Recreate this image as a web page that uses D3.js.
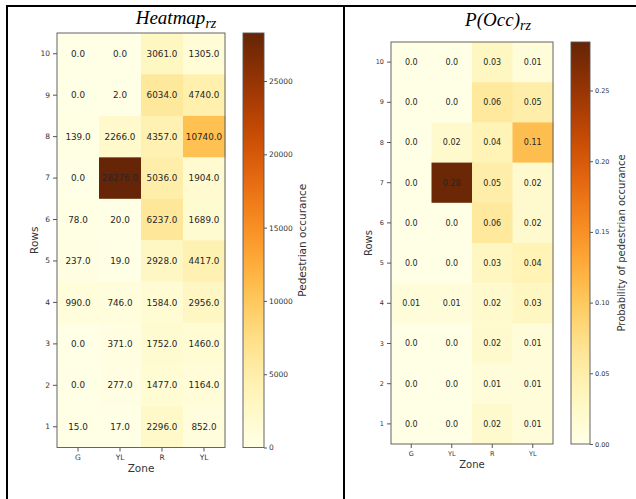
<!DOCTYPE html>
<html>
<head>
<meta charset="utf-8">
<script src="https://cdn.jsdelivr.net/npm/d3@7"></script>
<style>
  body { margin: 0; background: #fff; }
  svg { display: block; font-family: "DejaVu Sans", sans-serif; }
</style>
</head>
<body>
<svg id="chart" width="636" height="499"></svg>
<script>
// categories
var zones = ["G", "YL", "R", "YL"];
var rowLabels = [10, 9, 8, 7, 6, 5, 4, 3, 2, 1];

// pedestrian counts, one array per row (row 10 first)
var counts = [
  [0, 0, 3061, 1305],
  [0, 2, 6034, 4740],
  [139, 2266, 4357, 10740],
  [0, 28276, 5036, 1904],
  [78, 20, 6237, 1689],
  [237, 19, 2928, 4417],
  [990, 746, 1584, 2956],
  [0, 371, 1752, 1460],
  [0, 277, 1477, 1164],
  [15, 17, 2296, 852]
];

// probability of occurrence, as printed in the cells
var probs = [
  [0.0, 0.0, 0.03, 0.01],
  [0.0, 0.0, 0.06, 0.05],
  [0.0, 0.02, 0.04, 0.11],
  [0.0, 0.28, 0.05, 0.02],
  [0.0, 0.0, 0.06, 0.02],
  [0.0, 0.0, 0.03, 0.04],
  [0.01, 0.01, 0.02, 0.03],
  [0.0, 0.0, 0.02, 0.01],
  [0.0, 0.0, 0.01, 0.01],
  [0.0, 0.0, 0.02, 0.01]
];

var countTicks = [0, 5000, 10000, 15000, 20000, 25000];
var probTicks = [0, 0.05, 0.10, 0.15, 0.20, 0.25];

var svg = d3.select("#chart");

// table borders around the two figures
svg.append("line").attr("x1", 6).attr("x2", 636).attr("y1", 6).attr("y2", 6)
  .attr("stroke", "#000").attr("stroke-width", 2);
svg.append("line").attr("x1", 7).attr("x2", 7).attr("y1", 5).attr("y2", 499)
  .attr("stroke", "#000").attr("stroke-width", 2);
svg.append("line").attr("x1", 344).attr("x2", 344).attr("y1", 5).attr("y2", 499)
  .attr("stroke", "#000").attr("stroke-width", 2);

var defs = svg.append("defs");

function drawPanel(p) {
  var g = svg.append("g");

  var x = d3.scaleBand().domain(d3.range(zones.length)).range([p.x0, p.x1]);
  var y = d3.scaleBand().domain(rowLabels).range([p.y0, p.y1]);
  var colour = d3.scaleSequential(d3.interpolateYlOrBr).domain([0, p.max]);

  var cells = [];
  p.values.forEach(function (row, ri) {
    row.forEach(function (v, ci) {
      cells.push({ row: rowLabels[ri], col: ci, v: v });
    });
  });

  g.selectAll("rect.cell")
    .data(cells)
    .enter()
    .append("rect")
    .attr("class", "cell")
    .attr("x", function (d) { return x(d.col); })
    .attr("y", function (d) { return y(d.row); })
    .attr("width", x.bandwidth() + 0.5)
    .attr("height", y.bandwidth() + 0.5)
    .attr("fill", function (d) { return colour(d.v); });

  g.selectAll("text.val")
    .data(cells)
    .enter()
    .append("text")
    .attr("class", "val")
    .attr("x", function (d) { return x(d.col) + x.bandwidth() / 2; })
    .attr("y", function (d) { return y(d.row) + y.bandwidth() / 2; })
    .attr("dy", "0.35em")
    .attr("text-anchor", "middle")
    .style("font-size", p.valSize + "px")
    .style("fill", "#262626")
    .text(function (d) { return p.fmt(d.v); });

  // frame
  g.append("rect")
    .attr("x", p.x0).attr("y", p.y0)
    .attr("width", p.x1 - p.x0).attr("height", p.y1 - p.y0)
    .attr("fill", "none").attr("stroke", "#555").attr("stroke-width", 0.9);

  // y axis
  var yAxis = g.append("g")
    .attr("transform", "translate(" + p.x0 + ",0)")
    .call(d3.axisLeft(y).tickSize(4).tickPadding(3));
  yAxis.select(".domain").remove();
  yAxis.selectAll("line").attr("stroke", "#555");
  yAxis.selectAll("text").style("font-size", p.tickSize + "px").style("fill", "#333")
    .style("font-family", "'DejaVu Sans', sans-serif");

  // x axis
  var xAxis = g.append("g")
    .attr("transform", "translate(0," + p.y1 + ")")
    .call(d3.axisBottom(x).tickSize(4).tickPadding(3).tickFormat(function (i) { return zones[i]; }));
  xAxis.select(".domain").remove();
  xAxis.selectAll("line").attr("stroke", "#555");
  xAxis.selectAll("text").style("font-size", p.tickSize + "px").style("fill", "#333")
    .style("font-family", "'DejaVu Sans', sans-serif");

  g.append("text")
    .attr("x", (p.x0 + p.x1) / 2)
    .attr("y", p.zoneY)
    .attr("text-anchor", "middle")
    .style("font-size", p.labelSize + "px")
    .style("fill", "#333")
    .text("Zone");

  g.append("text")
    .attr("transform", "translate(" + p.rowsX + "," + (p.y0 + p.y1) / 2 + ") rotate(-90)")
    .attr("text-anchor", "middle")
    .attr("dy", "0.35em")
    .style("font-size", p.labelSize + "px")
    .style("fill", "#333")
    .text("Rows");

  // colour bar
  var grad = defs.append("linearGradient")
    .attr("id", p.id + "grad")
    .attr("x1", 0).attr("y1", 1).attr("x2", 0).attr("y2", 0);
  d3.range(0, 1.0001, 0.05).forEach(function (t) {
    grad.append("stop").attr("offset", t).attr("stop-color", d3.interpolateYlOrBr(t));
  });

  var cy = d3.scaleLinear().domain([0, p.max]).range([p.y1, p.y0]);
  g.append("rect")
    .attr("x", p.cb0).attr("y", p.y0)
    .attr("width", p.cb1 - p.cb0).attr("height", p.y1 - p.y0)
    .attr("fill", "url(#" + p.id + "grad)")
    .attr("stroke", "#555").attr("stroke-width", 0.9);

  var cAxis = g.append("g")
    .attr("transform", "translate(" + p.cb1 + ",0)")
    .call(d3.axisRight(cy).tickValues(p.ticks).tickSize(3).tickPadding(2).tickFormat(p.tickFmt));
  cAxis.select(".domain").remove();
  cAxis.selectAll("line").attr("stroke", "#555");
  cAxis.selectAll("text").style("font-size", p.tickSize + "px").style("fill", "#333")
    .style("font-family", "'DejaVu Sans', sans-serif");

  g.append("text")
    .attr("transform", "translate(" + p.cbLabelX + "," + (p.y0 + p.y1) / 2 + ") rotate(-90)")
    .attr("text-anchor", "middle")
    .attr("dy", "0.35em")
    .style("font-size", p.labelSize + "px")
    .style("fill", "#333")
    .text(p.cbLabel);

  // title with subscript
  var title = svg.append("text")
    .attr("x", p.titleX)
    .attr("y", p.titleY)
    .attr("text-anchor", "middle")
    .style("font-family", "'Liberation Serif', serif")
    .style("font-style", "italic")
    .style("font-size", "19px")
    .style("fill", "#000");
  title.append("tspan").text(p.title);
  title.append("tspan").attr("dy", 4).style("font-size", "14px").text("rz");
}

drawPanel({
  id: "heat",
  values: counts,
  max: 28276,
  x0: 57, x1: 225, y0: 33, y1: 447.5,
  cb0: 243, cb1: 264,
  ticks: countTicks,
  tickFmt: d3.format("d"),
  fmt: function (v) { return v.toFixed(1); },
  valSize: 8.8, tickSize: 7.5, labelSize: 10.5,
  zoneY: 472, rowsX: 34,
  cbLabel: "Pedestrian occurance", cbLabelX: 302,
  title: "Heatmap", titleX: 176, titleY: 24
});

drawPanel({
  id: "prob",
  values: probs,
  max: 0.2843,
  x0: 391, x1: 553, y0: 42, y1: 444,
  cb0: 571, cb1: 590,
  ticks: probTicks,
  tickFmt: d3.format(".2f"),
  fmt: function (v) { return v === 0 ? "0.0" : String(v); },
  valSize: 8, tickSize: 6.5, labelSize: 10,
  zoneY: 468, rowsX: 368,
  cbLabel: "Probability of pedestrian occurance", cbLabelX: 621,
  title: "P(Occ)", titleX: 498, titleY: 26
});
</script>
</body>
</html>
